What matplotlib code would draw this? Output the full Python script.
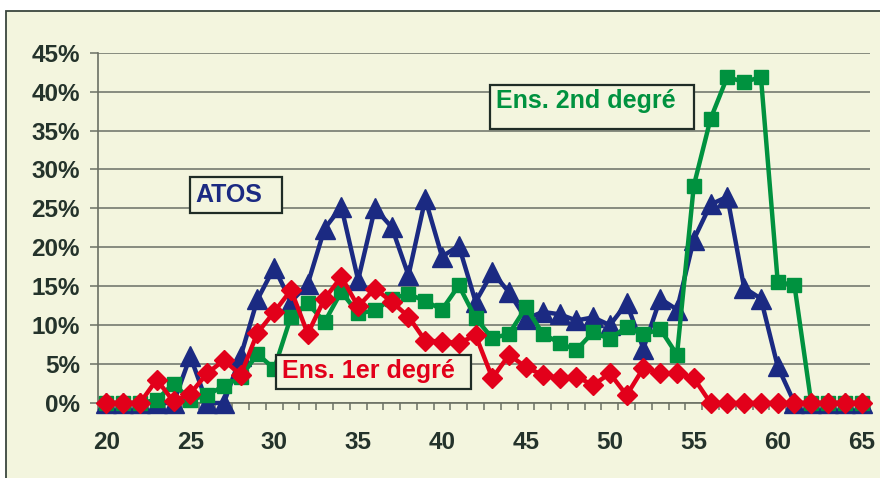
import matplotlib
matplotlib.use("Agg")
import matplotlib.pyplot as plt
from matplotlib.patches import Rectangle
from matplotlib.ticker import FixedLocator, FuncFormatter

plt.rcParams['font.family'] = ['Liberation Sans', 'DejaVu Sans']
plt.rcParams['font.weight'] = 'bold'

ages = list(range(20, 66))

atos = [0, 0, 0, 0, 0, 6.0, 0, 0, 6.0, 13.3,
        17.4, 13.0, 15.3, 22.4, 25.2, 15.8, 25.0, 22.6, 16.4, 26.2,
        18.8, 20.2, 13.0, 16.8, 14.2, 10.8, 11.7, 11.4, 10.6, 11.0,
        10.0, 12.8, 7.0, 13.4, 12.0, 21.0, 25.5, 26.5, 14.8, 13.4,
        4.7, 0, 0, 0, 0, 0]

ens2 = [0, 0, 0, 0.4, 2.5, 0.4, 1.0, 2.2, 3.3, 6.3,
        4.4, 11.1, 12.8, 10.4, 14.3, 11.5, 11.9, 13.4, 14.0, 13.1,
        12.0, 15.1, 10.9, 8.3, 8.9, 12.3, 8.9, 7.7, 6.8, 9.1,
        8.2, 9.8, 8.8, 9.5, 6.2, 27.9, 36.5, 41.9, 41.2, 41.9,
        15.6, 15.1, 0, 0, 0, 0]

ens1 = [0, 0, 0, 3.0, 0.2, 1.2, 3.8, 5.5, 3.6, 9.0,
        11.7, 14.5, 8.9, 13.4, 16.2, 12.4, 14.7, 13.0, 11.1, 8.0,
        7.9, 7.7, 8.7, 3.2, 6.2, 4.6, 3.6, 3.2, 3.4, 2.3,
        3.8, 1.0, 4.5, 3.8, 3.8, 3.2, 0, 0, 0, 0,
        0, 0, 0, 0, 0, 0]

y_ticks = [0, 5, 10, 15, 20, 25, 30, 35, 40, 45]
x_ticks = [20, 25, 30, 35, 40, 45, 50, 55, 60, 65]

label_atos = "ATOS"
label_ens1 = "Ens. 1er degré"
label_ens2 = "Ens. 2nd degré"

NAVY = '#1b2a82'
GREEN = '#00923f'
RED = '#e2001a'
BG = '#f3f5de'
DARK = '#24332b'
GRID = '#7e8377'

W, H = 880, 478
fig = plt.figure(figsize=(W / 100, H / 100), dpi=100)
fig.patch.set_facecolor('white')

# outer chart frame (beige with dark top/left border)
frame = Rectangle((6 / W, -0.2), 1.2, 1 - 10.7 / H + 0.2, transform=fig.transFigure,
                  facecolor=BG, edgecolor='#3a463e', linewidth=1.3, zorder=0)
fig.add_artist(frame)

ax = fig.add_axes([98 / W, 1 - 403 / H, (870 - 98) / W, (403 - 52.7) / H])
ax.set_facecolor('none')
ax.set_xlim(19.5, 65.5)
ax.set_ylim(0, 45)

for s in ['top', 'right']:
    ax.spines[s].set_visible(False)
for s in ['left', 'bottom']:
    ax.spines[s].set_color('#6b7064')
    ax.spines[s].set_linewidth(1.2)

ax.yaxis.set_major_locator(FixedLocator(y_ticks))
ax.yaxis.set_major_formatter(FuncFormatter(lambda v, p: f"{v:.0f}%"))
ax.tick_params(axis='y', length=5.8, width=1.1, color='#6b7064', pad=7.2,
               labelsize=17.5, labelcolor=DARK)
ax.grid(axis='y', color=GRID, linewidth=1.3, zorder=1)
ax.set_axisbelow(True)

ax.xaxis.set_major_locator(FixedLocator(x_ticks))
ax.xaxis.set_minor_locator(FixedLocator([a - 0.5 for a in ages] + [65.5]))
ax.tick_params(axis='x', which='major', length=0, pad=20.5,
               labelsize=17.5, labelcolor=DARK)
ax.tick_params(axis='x', which='minor', length=5, width=1.1, color='#6b7064')

ax.plot(ages, atos, color=NAVY, linewidth=3.2, marker='^', markersize=14,
        markeredgewidth=1, markeredgecolor=NAVY, clip_on=False, zorder=3)
ax.plot(ages, ens2, color=GREEN, linewidth=3.2, marker='s', markersize=10.5,
        markeredgewidth=1, markeredgecolor=GREEN, clip_on=False, zorder=4)
ax.plot(ages, ens1, color=RED, linewidth=3.2, marker='D', markersize=9.8,
        markeredgewidth=1, markeredgecolor=RED, clip_on=False, zorder=5)


def label_box(x0, y0, x1, y1, tx, tbase, text, color):
    r = Rectangle((x0 / W, 1 - y1 / H), (x1 - x0) / W, (y1 - y0) / H,
                  transform=fig.transFigure, facecolor=BG, edgecolor='#1f2c26',
                  linewidth=1.6, zorder=10)
    fig.add_artist(r)
    fig.text(tx / W, 1 - tbase / H, text, color=color, fontsize=18,
             fontweight='bold', ha='left', va='baseline', zorder=11)


label_box(190, 177, 282, 213, 195, 201.7, label_atos, NAVY)
label_box(276, 355, 471, 389, 281.5, 378.3, label_ens1, RED)
label_box(489.5, 84.5, 694, 128.5, 496, 108.3, label_ens2, GREEN)

fig.savefig('out.png', dpi=100, facecolor=fig.get_facecolor())
